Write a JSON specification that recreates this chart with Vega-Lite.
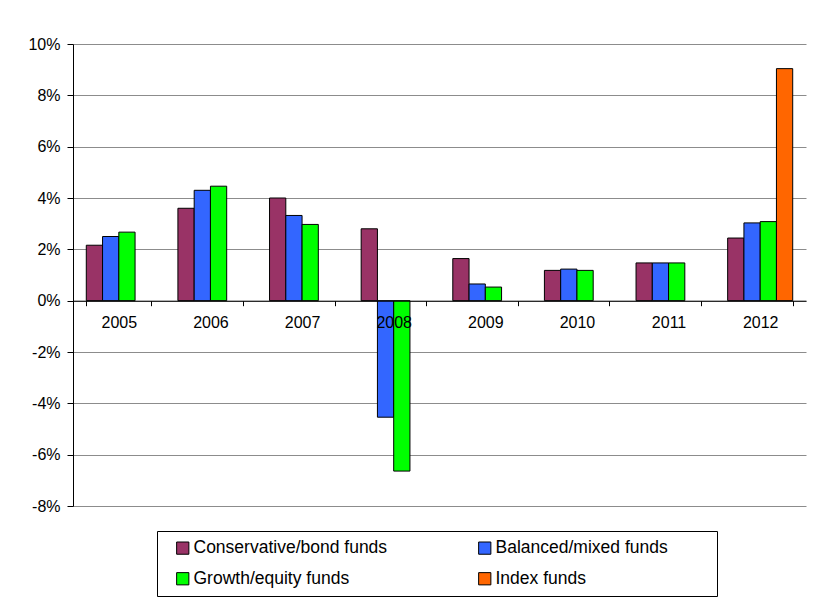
{
  "$schema": "https://vega.github.io/schema/vega-lite/v6.json",
  "width": 733,
  "height": 462,
  "autosize": {"type": "none"},
  "padding": {"left": 73, "top": 44, "right": 20, "bottom": 92},
  "background": "white",
  "config": {
    "view": {"stroke": null},
    "font": "Liberation Sans",
    "axis": {"labelFont": "Liberation Sans", "labelFontSize": 16, "labelColor": "black"}
  },
  "data": {
    "values": [
      {"year": "2005", "series": "Conservative/bond funds", "value": 2.16},
      {"year": "2005", "series": "Balanced/mixed funds", "value": 2.5},
      {"year": "2005", "series": "Growth/equity funds", "value": 2.67},
      {"year": "2006", "series": "Conservative/bond funds", "value": 3.6},
      {"year": "2006", "series": "Balanced/mixed funds", "value": 4.3},
      {"year": "2006", "series": "Growth/equity funds", "value": 4.46},
      {"year": "2007", "series": "Conservative/bond funds", "value": 4.0},
      {"year": "2007", "series": "Balanced/mixed funds", "value": 3.32},
      {"year": "2007", "series": "Growth/equity funds", "value": 2.97},
      {"year": "2008", "series": "Conservative/bond funds", "value": 2.8},
      {"year": "2008", "series": "Balanced/mixed funds", "value": -4.54},
      {"year": "2008", "series": "Growth/equity funds", "value": -6.64},
      {"year": "2009", "series": "Conservative/bond funds", "value": 1.64},
      {"year": "2009", "series": "Balanced/mixed funds", "value": 0.65},
      {"year": "2009", "series": "Growth/equity funds", "value": 0.53},
      {"year": "2010", "series": "Conservative/bond funds", "value": 1.18},
      {"year": "2010", "series": "Balanced/mixed funds", "value": 1.23},
      {"year": "2010", "series": "Growth/equity funds", "value": 1.18},
      {"year": "2011", "series": "Conservative/bond funds", "value": 1.47},
      {"year": "2011", "series": "Balanced/mixed funds", "value": 1.47},
      {"year": "2011", "series": "Growth/equity funds", "value": 1.47},
      {"year": "2012", "series": "Conservative/bond funds", "value": 2.44},
      {"year": "2012", "series": "Balanced/mixed funds", "value": 3.03},
      {"year": "2012", "series": "Growth/equity funds", "value": 3.08},
      {"year": "2012", "series": "Index funds", "value": 9.04}
    ]
  },
  "mark": {"type": "bar", "stroke": "black", "strokeWidth": 1},
  "encoding": {
    "x": {
      "field": "year",
      "type": "nominal",
      "scale": {"paddingInner": 0.29, "paddingOuter": 0.145},
      "axis": {
        "title": null,
        "labelAngle": 0,
        "offset": -205.3,
        "tickBand": "extent",
        "tickSize": 5,
        "tickColor": "black",
        "domainColor": "black",
        "labelPadding": 9,
        "zindex": 1
      }
    },
    "xOffset": {
      "field": "series",
      "type": "nominal",
      "scale": {"domain": ["Conservative/bond funds", "Balanced/mixed funds", "Growth/equity funds", "Index funds"], "paddingInner": 0, "paddingOuter": 0}
    },
    "y": {
      "field": "value",
      "type": "quantitative",
      "scale": {"domain": [-8, 10], "nice": false},
      "axis": {
        "title": null,
        "values": [-8, -6, -4, -2, 0, 2, 4, 6, 8, 10],
        "labelExpr": "datum.value + '%'",
        "grid": true,
        "gridColor": "#8c8c8c",
        "gridWidth": 1,
        "tickSize": 6,
        "tickColor": "black",
        "domainColor": "black",
        "labelPadding": 7
      }
    },
    "color": {
      "field": "series",
      "type": "nominal",
      "scale": {
        "domain": ["Conservative/bond funds", "Balanced/mixed funds", "Growth/equity funds", "Index funds"],
        "range": ["#993366", "#3366FF", "#00FF00", "#FF6600"]
      },
      "legend": {
        "title": " ",
        "titleOrient": "right",
        "titlePadding": 41,
        "orient": "none",
        "legendX": 84,
        "legendY": 487,
        "direction": "horizontal",
        "columns": 2,
        "gridAlign": "all",
        "columnPadding": 79,
        "rowPadding": 12,
        "padding": 8,
        "symbolOffset": 9,
        "strokeColor": "black",
        "fillColor": "white",
        "symbolType": "square",
        "symbolSize": 150,
        "symbolStrokeColor": "black",
        "symbolStrokeWidth": 1,
        "symbolOpacity": 1,
        "labelOffset": 2,
        "labelFont": "Liberation Sans",
        "labelFontSize": 17.5,
        "labelColor": "black",
        "labelLimit": 300
      }
    }
  }
}
